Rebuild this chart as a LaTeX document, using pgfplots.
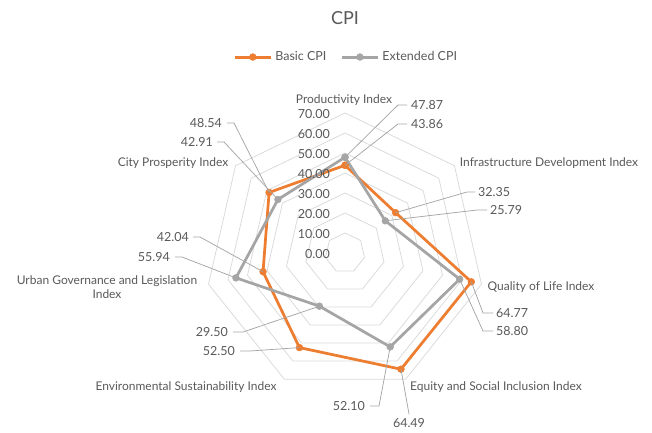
\documentclass[border=0pt]{standalone}
\usepackage{pgfplots}
\pgfplotsset{compat=1.18}
\usepackage{fontspec}
\setmainfont{Lato}
\definecolor{corange}{RGB}{237,125,49}
\definecolor{cgray}{RGB}{165,165,165}
\definecolor{ctext}{RGB}{89,89,89}
\definecolor{cgrid}{RGB}{217,217,217}
\definecolor{clead}{RGB}{166,166,166}
\begin{document}
\begin{tikzpicture}
\begin{axis}[
  at={(0pt,0pt)}, anchor=south west,
  x=2pt, y=2pt,
  xmin=-172.5, xmax=153.5, ymin=-89.5, ymax=126.5,
  hide axis, clip=false,
  legend style={at={(0.531,0.868)}, anchor=center, draw=none, fill=none,
    legend columns=2, font=\fontsize{12.5}{14}\selectfont\color{ctext},
    /tikz/every odd column/.append style={column sep=1pt},
    /tikz/every even column/.append style={column sep=12pt}},
  legend image code/.code={%
    \draw[#1, line width=3pt, mark=none] (0pt,0pt) -- (36pt,0pt);
    \draw[#1, line width=0.5pt, only marks] plot coordinates {(18pt,0pt)};},
]
\path (rel axis cs:0,0) rectangle (rel axis cs:1,1);
\pgfplotsinvokeforeach{10,20,30,40,50,60,70}{
 \addplot[cgrid, line width=0.75pt, no marks, forget plot, data cs=polar] coordinates {(90,#1) (38.571,#1) (-12.857,#1) (-64.286,#1) (-115.714,#1) (-167.143,#1) (141.429,#1) (90,#1)};
}
\addplot[corange, line width=2.75pt, line join=round, mark=*, mark size=3.4pt, mark options={line width=0.5pt, fill=corange}, data cs=polar]
 coordinates {(90,43.86) (38.571,32.35) (-12.857,64.77) (-64.286,64.49) (-115.714,52.50) (-167.143,42.04) (141.429,48.54) (90,43.86)};
\addlegendentry{Basic CPI}
\addplot[cgray, line width=2.75pt, line join=round, mark=*, mark size=3.4pt, mark options={line width=0.5pt, fill=cgray}, data cs=polar]
 coordinates {(90,47.87) (38.571,25.79) (-12.857,58.80) (-64.286,52.10) (-115.714,29.50) (-167.143,55.94) (141.429,42.91) (90,47.87)};
\addlegendentry{Extended CPI}
\end{axis}
\begin{scope}[x=1pt, y=-1pt, shift={(0pt,432pt)},
  every node/.style={inner sep=0pt, text=ctext, font=\fontsize{12}{14}\selectfont}]
\node at (345,18) {\fontsize{18}{20}\selectfont CPI};
% tick labels
\foreach \v in {0,10,...,70}{
  \node[anchor=east] at (330,{254-2*\v}) {\fontsize{12.5}{14}\selectfont\v.00};
}
% category labels
\node at (344,100) {Productivity Index};
\node at (549,163) {Infrastructure Development Index};
\node at (541,287) {Quality of Life Index};
\node at (496,387) {Equity and Social Inclusion Index};
\node at (186,387) {Environmental Sustainability Index};
\node[align=center] at (107,287) {Urban Governance and Legislation\\Index};
\node at (173,163) {City Prosperity Index};
% leader lines
\begin{scope}[clead, line width=0.75pt]
\draw (345,157.3) -- (398,105) -- (407,105);
\draw (345,165.3) -- (398,124) -- (407,124);
\draw (395.6,212.7) -- (467,192) -- (475,192);
\draw (385.3,220.8) -- (477,210) -- (487,210);
\draw (471.3,281.8) -- (483,313) -- (493,313);
\draw (459.6,279.2) -- (483,331) -- (493,331);
\draw (401,369.2) -- (409,414);
\draw (390.2,346.9) -- (379,406) -- (370,406);
\draw (319.4,306.2) -- (243,332) -- (233,332);
\draw (299.4,347.6) -- (250,351) -- (240,351);
\draw (263,271.7) -- (200,237) -- (193,237);
\draw (235.9,277.9) -- (182,257) -- (175,257);
\draw (277.9,199.5) -- (224,142) -- (217,142);
\draw (269.1,192.5) -- (234,123) -- (227,123);
\end{scope}
% value labels
\begin{scope}[every node/.append style={font=\fontsize{12.5}{14}\selectfont}]
\node[anchor=west] at (411,105) {47.87};
\node[anchor=west] at (411,124) {43.86};
\node[anchor=west] at (478,192) {32.35};
\node[anchor=west] at (490,210) {25.79};
\node[anchor=west] at (496,313) {64.77};
\node[anchor=west] at (496,331) {58.80};
\node at (409,423) {64.49};
\node[anchor=east] at (365,406) {52.10};
\node[anchor=east] at (228,332) {29.50};
\node[anchor=east] at (235,351) {52.50};
\node[anchor=east] at (189,237) {42.04};
\node[anchor=east] at (170,257) {55.94};
\node[anchor=east] at (213,142) {42.91};
\node[anchor=east] at (222,123) {48.54};
\end{scope}
\end{scope}
\end{tikzpicture}
\end{document}
